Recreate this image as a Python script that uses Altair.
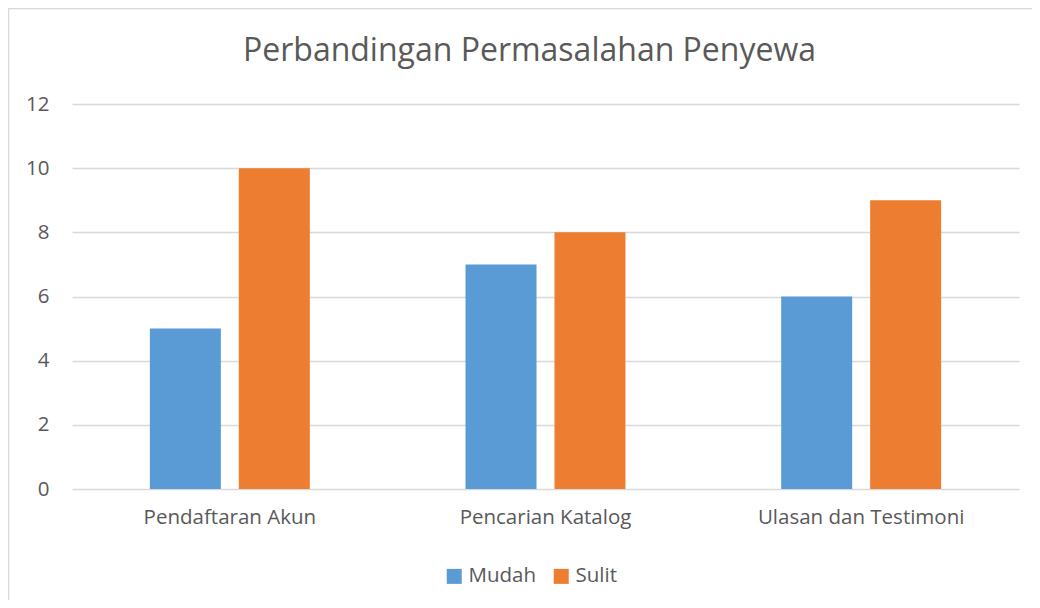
import altair as alt
import pandas as pd

categories = ["Pendaftaran Akun", "Pencarian Katalog", "Ulasan dan Testimoni"]
series = ["Mudah", "Sulit"]
mudah = [5, 7, 6]
sulit = [10, 8, 9]
colors = ["#5B9BD5", "#ED7D31"]
y_ticks = [0, 2, 4, 6, 8, 10, 12]

rows = []
for c, m, s in zip(categories, mudah, sulit):
    rows.append({"Kategori": c, "Seri": "Mudah", "Nilai": m})
    rows.append({"Kategori": c, "Seri": "Sulit", "Nilai": s})
df = pd.DataFrame(rows)

FONT = "Open Sans"
TXT = "#595959"
GRID = "#D9D9D9"
W, H = 947, 385
FS = 20.5

bars = alt.Chart(df).mark_bar().encode(
    x=alt.X("Kategori:N", sort=categories, title=None,
            scale=alt.Scale(paddingInner=0, paddingOuter=0),
            axis=alt.Axis(labelAngle=0, ticks=False, domain=False, labelPadding=18,
                          labelFontSize=FS, labelColor=TXT, labelFont=FONT, grid=False,
                          labelLimit=400)),
    xOffset=alt.XOffset("Seri:N", sort=series,
                        scale=alt.Scale(paddingInner=0.202, paddingOuter=0.875)),
    y=alt.Y("Nilai:Q", title=None,
            scale=alt.Scale(domain=[0, 12], nice=False),
            axis=alt.Axis(values=y_ticks, ticks=False, domain=False, labelPadding=23,
                          labelFontSize=FS, labelColor=TXT, labelFont=FONT,
                          gridColor=GRID, gridWidth=1.3)),
    color=alt.Color("Seri:N", sort=series,
                    scale=alt.Scale(domain=series, range=colors),
                    legend=alt.Legend(title=None, orient="none", legendX=372, legendY=462,
                                      direction="horizontal", symbolType="square",
                                      symbolSize=225, symbolStrokeWidth=0,
                                      labelFontSize=FS, labelColor=TXT, labelFont=FONT,
                                      columnPadding=14, labelOffset=4)),
)

border = alt.Chart(pd.DataFrame({"a": [0]})).mark_rect(
    fillOpacity=0, stroke=GRID, strokeWidth=1.5
).encode(
    x=alt.value(-63.5), x2=alt.value(W + 60),
    y=alt.value(-95.5), y2=alt.value(H + 150),
)

chart = alt.layer(border, bars).properties(
    width=W, height=H,
    title=alt.TitleParams("Perbandingan Permasalahan Penyewa", fontSize=32, color=TXT,
                          font=FONT, fontWeight="normal", anchor="middle",
                          baseline="alphabetic", offset=-85, dx=-16),
    autosize=alt.AutoSizeParams(type="none"),
    padding={"left": 64, "top": 96, "right": 13, "bottom": 111},
).configure(background="white").configure_view(stroke=None)

chart.save("out.html", embed_options={"renderer": "svg", "actions": False})
